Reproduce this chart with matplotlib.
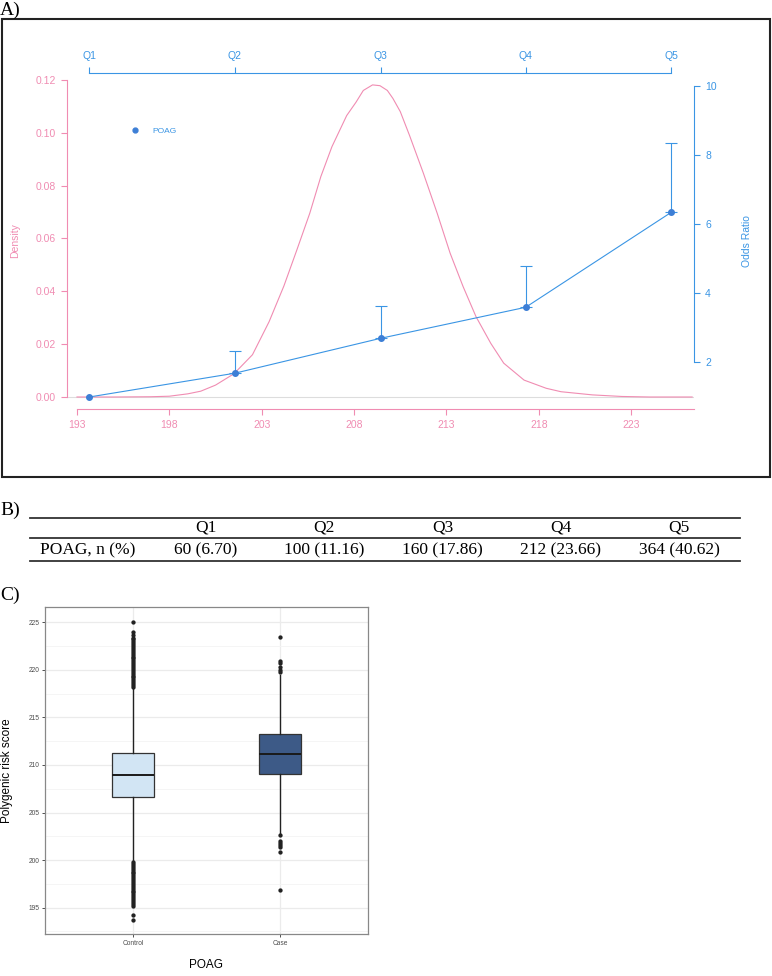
import matplotlib
matplotlib.use("Agg")
import matplotlib.pyplot as plt
from matplotlib.lines import Line2D
from matplotlib.patches import Rectangle

plt.rcParams["font.family"] = ["Liberation Sans", "DejaVu Sans"]

# ---- panel A: density of the risk score and odds ratio per quintile
dens_x = [193.0, 195.0, 197.0, 198.0, 199.0, 199.7, 200.5, 201.5, 202.5, 203.4,
          204.2, 204.9, 205.6, 206.2, 206.8, 207.6, 208.1, 208.5, 209.0, 209.4,
          209.8, 210.1, 210.5, 211.0, 211.75, 212.5, 213.2, 213.9, 214.6, 215.4,
          216.1, 217.2, 218.4, 219.2, 220.9, 222.5, 224.0, 226.3]
dens_y = [0.0, 0.0, 0.0001, 0.0003, 0.0012, 0.0022, 0.0045, 0.0088, 0.0160, 0.0285,
          0.0420, 0.0556, 0.0695, 0.0834, 0.0947, 0.1065, 0.1115, 0.1160, 0.1181, 0.1178,
          0.1160, 0.1130, 0.1080, 0.0990, 0.0847, 0.0695, 0.0544, 0.0418, 0.0304, 0.0203,
          0.0128, 0.0064, 0.0033, 0.0020, 0.0008, 0.0002, 0.0, 0.0]

quint_labels = ["Q1", "Q2", "Q3", "Q4", "Q5"]
quint_x = [193.67, 201.55, 209.43, 217.29, 225.16]
odds_ratio = [1.00, 1.69, 2.70, 3.60, 6.35]
or_upper = [None, 2.33, 3.65, 4.81, 8.35]

dens_ticks = [0.00, 0.02, 0.04, 0.06, 0.08, 0.10, 0.12]
score_ticks = [193, 198, 203, 208, 213, 218, 223]
or_ticks = [2, 4, 6, 8, 10]

# ---- panel B: cases per quintile
case_n = [60, 100, 160, 212, 364]
case_pct = [6.70, 11.16, 17.86, 23.66, 40.62]

# ---- panel C: boxplot summaries
groups = ["Control", "Case"]
box_med = [208.98, 211.16]
box_q1 = [206.67, 209.02]
box_q3 = [211.26, 213.23]
whisk_lo = [199.8, 202.7]
whisk_hi = [218.1, 219.5]
control_fliers = [218.2, 218.4, 218.6, 218.8, 219.0, 219.2, 219.4, 219.6, 219.8, 220.0,
                  220.2, 220.4, 220.6, 220.8, 221.0, 221.2, 221.4, 221.6, 221.8, 222.0,
                  222.2, 222.4, 222.6, 222.8, 223.0, 223.2, 223.4, 223.7, 224.0, 225.05,
                  199.8, 199.6, 199.4, 199.2, 199.0, 198.8, 198.6, 198.4, 198.2, 198.0,
                  197.8, 197.6, 197.4, 197.2, 197.0, 196.8, 196.6, 196.4, 196.2, 196.0,
                  195.8, 195.6, 195.4, 195.2, 194.2, 193.75]
case_fliers = [219.8, 220.0, 220.3, 220.7, 220.9, 223.45,
               202.6, 202.0, 201.8, 201.6, 201.4, 200.8, 196.9]

W, H = 772, 976
pink = "#F08CB2"
blue = "#3A95E4"
dot = "#3D7FD6"


def fx(px):
    return px / W


def fy(py):
    return 1 - py / H


fig = plt.figure(figsize=(W / 100, H / 100), dpi=100)

# outer frame of panel A
fig.add_artist(Rectangle((fx(2), fy(477)), 768 / W, 458 / H, fill=False,
                         ec="#222222", lw=1.5, transform=fig.transFigure))

serif = ["Liberation Serif", "DejaVu Serif"]
fig.text(0, fy(10), "A)", family=serif, fontsize=14, va="center", ha="left")
fig.text(0, fy(510), "B)", family=serif, fontsize=14, va="center", ha="left")
fig.text(0, fy(595), "C)", family=serif, fontsize=14, va="center", ha="left")

ax = fig.add_axes([fx(67), fy(409), 627 / W, 336 / H])
ax.axhline(0, color="#DDDDDD", lw=0.8, zorder=1)
ax.plot(dens_x, dens_y, color=pink, lw=0.8, zorder=3, solid_joinstyle="round")
ax.set_xlim(192.46, 226.4)
ax.set_ylim(-0.00454, 0.1226)
ax.spines["top"].set_visible(False)
ax.spines["right"].set_visible(False)
ax.spines["left"].set_bounds(0, 0.12)
ax.spines["bottom"].set_bounds(193, 226.4)
for s in ["left", "bottom"]:
    ax.spines[s].set_color(pink)
    ax.spines[s].set_linewidth(0.8)
ax.set_yticks(dens_ticks)
ax.set_yticklabels(["%.2f" % v for v in dens_ticks])
ax.set_xticks(score_ticks)
ax.tick_params(colors=pink, labelsize=7.5, length=4, width=0.8, pad=4)
ax.set_ylabel("Density", color=pink, fontsize=7.5)
ax.yaxis.set_label_coords(-0.075, 0.5)

ax2 = ax.twinx()
ax2.set_ylim(0.652, 10.39)
ax2.plot(quint_x, odds_ratio, color=blue, lw=0.8, marker="o", ms=4,
         mfc=dot, mec=dot, zorder=4)
ci_x = [x for x, u in zip(quint_x, or_upper) if u is not None]
ci_y = [o for o, u in zip(odds_ratio, or_upper) if u is not None]
ci_up = [u - o for o, u in zip(odds_ratio, or_upper) if u is not None]
ax2.errorbar(ci_x, ci_y, yerr=[[0] * len(ci_up), ci_up], fmt="none",
             ecolor=blue, elinewidth=0.8, capsize=4, capthick=0.8)
for s in ["top", "left", "bottom"]:
    ax2.spines[s].set_visible(False)
ax2.spines["right"].set_bounds(2, 10)
ax2.spines["right"].set_color(blue)
ax2.spines["right"].set_linewidth(0.8)
ax2.set_yticks(or_ticks)
ax2.tick_params(colors=blue, labelsize=7.5, length=4, width=0.8, pad=4)
ax2.set_ylabel("Odds Ratio", color=blue, fontsize=7.5)
ax2.yaxis.set_label_coords(1.076, 0.5)
handle = Line2D([], [], ls="none", marker="o", ms=3.5, mfc=dot, mec=dot)
ax2.legend([handle], ["POAG"], loc="center left", bbox_to_anchor=(0.102, 0.827),
           frameon=False, fontsize=6, labelcolor=blue, handlelength=1,
           handletextpad=1.6, borderpad=0, borderaxespad=0)

ax3 = ax.twiny()
ax3.set_xlim(ax.get_xlim())
for s in ["left", "right", "bottom"]:
    ax3.spines[s].set_visible(False)
ax3.spines["top"].set_bounds(quint_x[0], quint_x[-1])
ax3.spines["top"].set_color(blue)
ax3.spines["top"].set_linewidth(0.8)
ax3.set_xticks(quint_x)
ax3.set_xticklabels(quint_labels)
ax3.tick_params(colors=blue, labelsize=7.5, length=4, width=0.8, pad=5)

# ---- panel B table
tab_left, tab_right = 30, 740
for py in [517.7, 538, 561]:
    fig.add_artist(Line2D([fx(tab_left), fx(tab_right)], [fy(py), fy(py)],
                          transform=fig.transFigure, color="#333333", lw=1.3))
fig.text(fx(40), fy(550), "POAG, n (%)", family=serif, fontsize=12.5,
         ha="left", va="center")
for i, (lab, n, p) in enumerate(zip(quint_labels, case_n, case_pct)):
    cx = fx(206 + 118.25 * i)
    fig.text(cx, fy(528), lab, family=serif, fontsize=12.5, ha="center", va="center")
    fig.text(cx, fy(550), "%d (%.2f)" % (n, p), family=serif, fontsize=12.5,
             ha="center", va="center")

# ---- panel C boxplot
axc = fig.add_axes([fx(45), fy(934), 323 / W, 327 / H])
stats = []
fl = [control_fliers, case_fliers]
for i, g in enumerate(groups):
    stats.append(dict(label=g, med=box_med[i], q1=box_q1[i], q3=box_q3[i],
                      whislo=whisk_lo[i], whishi=whisk_hi[i], fliers=fl[i]))
bp = axc.bxp(stats, positions=[1, 2], widths=0.29, patch_artist=True,
             showcaps=False,
             boxprops=dict(edgecolor="#333333", lw=0.9),
             whiskerprops=dict(color="#222222", lw=1.0),
             medianprops=dict(color="#1A1A1A", lw=1.4),
             flierprops=dict(marker="o", ms=3.1, mfc="#222222", mec="none"))
for patch, c in zip(bp["boxes"], ["#D2E5F4", "#3D5A87"]):
    patch.set_facecolor(c)
axc.set_xlim(0.4, 2.6)
axc.set_ylim(192.23, 226.61)
axc.set_yticks([195, 200, 205, 210, 215, 220, 225])
axc.set_yticks([192.5, 197.5, 202.5, 207.5, 212.5, 217.5, 222.5], minor=True)
axc.grid(which="major", color="#EBEBEB", lw=0.9)
axc.grid(which="minor", axis="y", color="#F4F4F4", lw=0.6)
axc.set_axisbelow(True)
for s in axc.spines.values():
    s.set_color("#888888")
    s.set_linewidth(0.9)
axc.tick_params(which="major", labelsize=4.8, labelcolor="#4D4D4D",
                color="#333333", length=2, width=0.6, pad=2)
axc.tick_params(which="minor", length=0)
axc.set_ylabel("Polygenic risk score", fontsize=8.5)
axc.yaxis.set_label_coords(-0.099, 0.5)
axc.set_xlabel("POAG", fontsize=8.5)
axc.xaxis.set_label_coords(0.5, -0.075)

fig.savefig("out.png", dpi=100)
